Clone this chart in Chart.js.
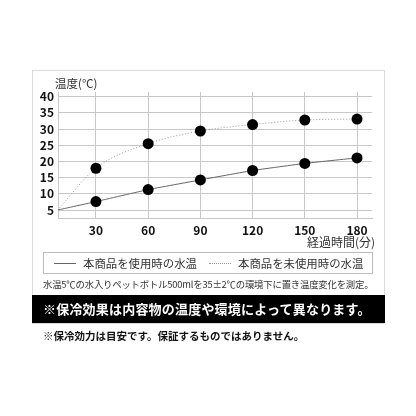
<!DOCTYPE html>
<html lang="ja">
<head>
<meta charset="utf-8">
<script src="https://cdn.jsdelivr.net/npm/chart.js@4.4.0/dist/chart.umd.min.js"></script>
<style>
  html, body { margin: 0; padding: 0; background: #fff; }
  body { width: 416px; height: 416px; position: relative; overflow: hidden;
         font-family: 'Noto Sans CJK JP', 'Noto Sans', sans-serif; color: #222; }
  .abs { position: absolute; white-space: nowrap; }
  #frame { left: 32px; top: 70px; width: 351px; height: 252px; border: 1px solid #dcdcdc; }
  #chart { position: absolute; left: 0; top: 0; }
  #yTitle { left: 55px; top: 76px; font-size: 11.5px; line-height: 14px; color: #333; }
  #xTitle { left: 307px; top: 234px; font-size: 12px; line-height: 15px; color: #333; }
  #legend { left: 43px; top: 252px; width: 328px; height: 20px; border: 1px solid #bcbcbc; }
  .swatch { top: 10px; width: 22px; height: 0; }
  .legText { top: 2px; font-size: 11.4px; line-height: 16px; color: #333; }
  #note { left: 43px; top: 278px; font-size: 9.4px; line-height: 12px; color: #333; letter-spacing: -0.2px; }
  #band { left: 32px; top: 295px; width: 353px; height: 28px; background: #000; }
  #bandText { left: 11px; top: 5px; font-size: 13px; line-height: 18px; font-weight: bold; color: #fff; letter-spacing: 0.2px; }
  #foot { left: 43px; top: 329px; font-size: 10.5px; line-height: 14px; font-weight: bold; color: #111; }
</style>
</head>
<body>
<div id="frame" class="abs"></div>
<canvas id="chart" width="416" height="250"></canvas>
<div id="yTitle" class="abs">温度(℃)</div>
<div id="xTitle" class="abs">経過時間(分)</div>
<div id="legend" class="abs">
  <span class="abs swatch" style="left:10px;border-top:1px solid #666;"></span>
  <span class="abs legText" style="left:39px;">本商品を使用時の水温</span>
  <span class="abs swatch" style="left:165px;border-top:1px dotted #999;"></span>
  <span class="abs legText" style="left:194px;">本商品を未使用時の水温</span>
</div>
<div id="note" class="abs">水温5℃の水入りペットボトル500mlを35±2℃の環境下に置き温度変化を測定。</div>
<div id="band" class="abs"><div id="bandText" class="abs">※保冷効果は内容物の温度や環境によって異なります。</div></div>
<div id="foot" class="abs">※保冷効力は目安です。保証するものではありません。</div>

<script>
// Elapsed time (min) - first point sits on the y axis
const TIMES = [8, 30, 60, 90, 120, 150, 180];
// Water temperature (C)
const TEMP_USED = [5, 7.6, 11.3, 14.3, 17.2, 19.4, 21.1];
const TEMP_UNUSED = [5, 17.9, 25.5, 29.4, 31.4, 32.8, 33.1];

const X_TICKS = [30, 60, 90, 120, 150, 180];
const Y_TICKS = [5, 10, 15, 20, 25, 30, 35, 40];

const GRID_COLOR = '#c8c8c8';
const TICK_FONT = { family: "'Noto Sans CJK JP', sans-serif", size: 12, weight: 'bold' };

const toPoints = (vals) => TIMES.map((t, i) => ({ x: t, y: vals[i] }));
// no marker on the starting point
const radii = TIMES.map((t, i) => (i === 0 ? 0 : 5.5));

new Chart(document.getElementById('chart').getContext('2d'), {
  type: 'line',
  data: {
    datasets: [
      {
        label: '本商品を使用時の水温',
        data: toPoints(TEMP_USED),
        borderColor: '#666',
        borderWidth: 1,
        tension: 0.1,
        pointRadius: radii,
        pointBackgroundColor: '#000',
        pointBorderWidth: 0
      },
      {
        label: '本商品を未使用時の水温',
        data: toPoints(TEMP_UNUSED),
        borderColor: '#999',
        borderWidth: 1,
        borderDash: [1, 2],
        cubicInterpolationMode: 'monotone',
        pointRadius: radii,
        pointBackgroundColor: '#000',
        pointBorderWidth: 0
      }
    ]
  },
  options: {
    responsive: false,
    animation: false,
    devicePixelRatio: 1,
    layout: { padding: { top: 92, right: 44, left: 0, bottom: 0 } },
    plugins: { legend: { display: false }, tooltip: { enabled: false } },
    scales: {
      x: {
        type: 'linear',
        min: 8.2,
        max: 188.6,
        afterBuildTicks: (s) => { s.ticks = X_TICKS.map(v => ({ value: v })); },
        afterFit: (s) => { s.height = 32; },
        grid: { color: GRID_COLOR, drawTicks: false },
        border: { color: GRID_COLOR },
        ticks: { color: '#111', font: TICK_FONT, padding: 5, maxRotation: 0 }
      },
      y: {
        min: 2.53,
        max: 41.45,
        afterBuildTicks: (s) => { s.ticks = Y_TICKS.map(v => ({ value: v })); },
        afterFit: (s) => { s.width = 58; },
        grid: { color: GRID_COLOR, drawTicks: false },
        border: { color: GRID_COLOR },
        ticks: { color: '#111', font: TICK_FONT, padding: 4 }
      }
    }
  }
});
</script>
</body>
</html>
